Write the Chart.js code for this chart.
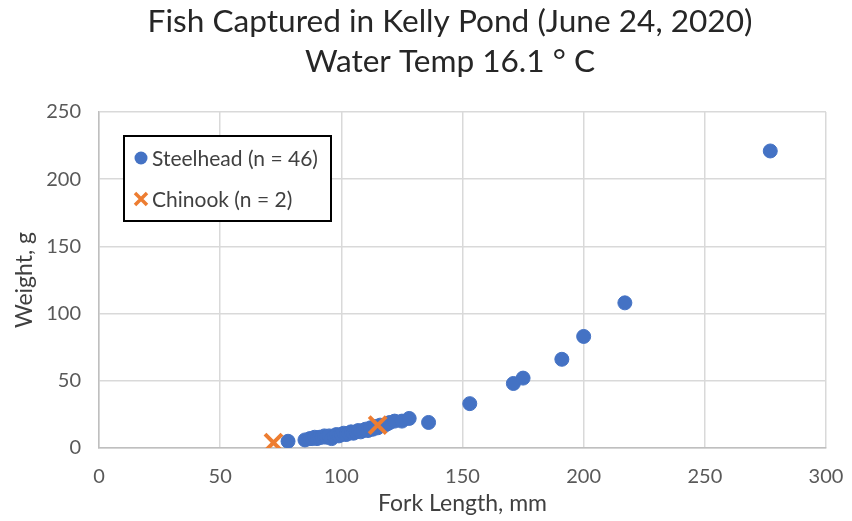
<!DOCTYPE html>
<html>
<head>
<meta charset="utf-8">
<script src="https://cdn.jsdelivr.net/npm/chart.js@4.4.1/dist/chart.umd.min.js"></script>
<style>
  html, body { margin: 0; padding: 0; background: #fff; }
  #wrap { width: 852px; height: 521px; }
</style>
</head>
<body>
<div id="wrap"><canvas id="fishChart"></canvas></div>
<script>
// Steelhead fork length (mm) and weight (g)
const steelheadLength = [78, 85, 87, 88, 89, 90, 91, 92, 93, 94, 95, 96, 97, 98, 99, 100, 101, 102, 103, 104,
  105, 106, 107, 108, 109, 110, 111, 112, 113, 114, 115, 116, 118, 119, 120, 122, 125, 128,
  136, 153, 171, 175, 191, 200, 217, 277];
const steelheadWeight = [5, 6, 7, 7, 8, 7, 8, 8, 9, 8, 9, 7, 9, 10, 9, 10, 11, 10, 11, 12,
  11, 12, 13, 12, 13, 14, 13, 15, 14, 16, 15, 17, 17, 18, 19, 20, 20, 22,
  19, 33, 48, 52, 66, 83, 108, 221];

// Chinook fork length (mm) and weight (g)
const chinookLength = [72, 115];
const chinookWeight = [4, 17];

const seriesLabels = ['Steelhead (n = 46)', 'Chinook (n = 2)'];
const titleLines = ['Fish Captured in Kelly Pond (June 24, 2020)', 'Water Temp 16.1 ° C'];
const xTicks = [0, 50, 100, 150, 200, 250, 300];
const yTicks = [0, 50, 100, 150, 200, 250];

const toPoints = (xs, ys) => xs.map((x, i) => ({ x: x, y: ys[i] }));

const FONT = 'Lato, "Open Sans", sans-serif';

// two-line title, centred a little right of the canvas middle like the original
const titleText = {
  id: 'titleText',
  afterDraw(chart) {
    const { ctx } = chart;
    ctx.save();
    ctx.font = '31.6px ' + FONT;
    ctx.fillStyle = '#262626';
    ctx.textAlign = 'center';
    ctx.textBaseline = 'middle';
    titleLines.forEach((line, i) => ctx.fillText(line, 450, 22 + i * 40));
    ctx.restore();
  }
};

// legend drawn inside the plot area, Excel style
const legendBox = {
  id: 'legendBox',
  afterDraw(chart) {
    const { ctx, chartArea } = chart;
    const left = chartArea.left + 25;
    const top = chartArea.top + 24;
    const w = 207, h = 85;
    ctx.save();
    ctx.fillStyle = '#fff';
    ctx.fillRect(left, top, w, h);
    ctx.strokeStyle = '#000';
    ctx.lineWidth = 2;
    ctx.strokeRect(left, top, w, h);
    ctx.font = '21px ' + FONT;
    ctx.textBaseline = 'middle';
    chart.data.datasets.forEach((ds, i) => {
      const cy = top + 22 + i * 41;
      const cx = left + 17;
      if (ds.pointStyle === 'crossRot') {
        ctx.strokeStyle = ds.borderColor;
        ctx.lineWidth = 3.5;
        ctx.beginPath();
        ctx.moveTo(cx - 6, cy - 6); ctx.lineTo(cx + 6, cy + 6);
        ctx.moveTo(cx + 6, cy - 6); ctx.lineTo(cx - 6, cy + 6);
        ctx.stroke();
      } else {
        ctx.fillStyle = ds.backgroundColor;
        ctx.beginPath();
        ctx.arc(cx, cy, 6.5, 0, Math.PI * 2);
        ctx.fill();
      }
      ctx.fillStyle = '#404040';
      ctx.fillText(ds.label, cx + 11, cy + 1);
    });
    ctx.restore();
  }
};

new Chart(document.getElementById('fishChart'), {
  type: 'scatter',
  data: {
    datasets: [{
      label: seriesLabels[0],
      data: toPoints(steelheadLength, steelheadWeight),
      order: 1,
      pointStyle: 'circle',
      backgroundColor: '#4472C4',
      borderColor: '#4472C4',
      pointRadius: 7,
      pointHoverRadius: 7
    }, {
      label: seriesLabels[1],
      data: toPoints(chinookLength, chinookWeight),
      order: 0,
      pointStyle: 'crossRot',
      backgroundColor: '#ED7D31',
      borderColor: '#ED7D31',
      borderWidth: 4,
      pointRadius: 12,
      pointHoverRadius: 12
    }]
  },
  options: {
    responsive: true,
    maintainAspectRatio: false,
    animation: false,
    layout: { padding: { left: 0, right: 26, top: 112, bottom: 0 } },
    plugins: {
      legend: { display: false },
      tooltip: { enabled: false },
      title: { display: false }
    },
    scales: {
      x: {
        type: 'linear',
        min: 0,
        max: 300,
        afterBuildTicks: s => { s.ticks = xTicks.map(v => ({ value: v })); },
        afterFit: s => { s.height = 73; s.paddingRight = 0; s.paddingLeft = 0; },
        ticks: { color: '#595959', font: { family: FONT, size: 20 }, padding: 17 },
        grid: { color: '#d9d9d9', lineWidth: 1.5, drawTicks: false },
        border: { color: '#bfbfbf', width: 1.5 },
        title: {
          display: true,
          text: 'Fork Length, mm',
          color: '#404040',
          font: { family: FONT, size: 23 },
          padding: { top: 2, bottom: 4 }
        }
      },
      y: {
        type: 'linear',
        min: 0,
        max: 250,
        afterBuildTicks: s => { s.ticks = yTicks.map(v => ({ value: v })); },
        afterFit: s => { s.width = 99; s.paddingTop = 0; s.paddingBottom = 0; },
        ticks: { color: '#595959', font: { family: FONT, size: 20 }, padding: 18 },
        grid: { color: '#d9d9d9', lineWidth: 1.5, drawTicks: false },
        border: { color: '#bfbfbf', width: 1.5 },
        title: {
          display: true,
          text: 'Weight, g',
          color: '#404040',
          font: { family: FONT, size: 23 },
          padding: { top: 11, bottom: 4 }
        }
      }
    }
  },
  plugins: [titleText, legendBox]
});
</script>
</body>
</html>
